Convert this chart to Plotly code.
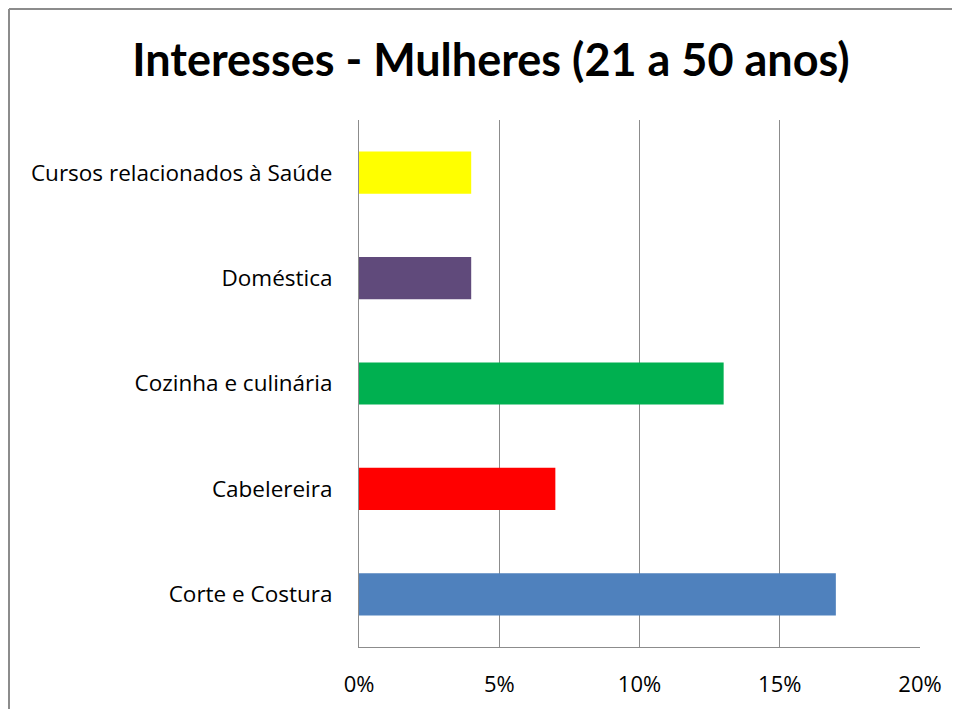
import plotly.graph_objects as go

categorias = [
    "Corte e Costura",
    "Cabelereira",
    "Cozinha e culinária",
    "Doméstica",
    "Cursos relacionados à Saúde",
]
percentuais = [0.17, 0.07, 0.13, 0.04, 0.04]
cores = ["#4F81BD", "#FF0000", "#00B050", "#604A7B", "#FFFF00"]
ticks_x = [0, 0.05, 0.10, 0.15, 0.20]
rotulos_x = ["0%", "5%", "10%", "15%", "20%"]

# a página tem margem de 8px, por isso as margens já descontam esse deslocamento
W, H = 960, 709
M_L, M_R, M_T, M_B = 351, 48, 112, 70
plot_w = W - M_L - M_R
plot_h = H - M_T - M_B

fig = go.Figure()

fig.add_trace(
    go.Bar(
        x=percentuais,
        y=categorias,
        orientation="h",
        marker=dict(color=cores, line=dict(width=0)),
        width=0.4,
        hoverinfo="x+y",
    )
)

# moldura cinza: só as bordas esquerda e superior aparecem na imagem
x_esq = (1 - M_L) / plot_w
y_topo = (H - 1 - M_B) / plot_h
fig.add_shape(
    type="line", xref="paper", yref="paper",
    x0=x_esq, x1=x_esq, y0=-0.3, y1=y_topo,
    line=dict(color="#8C8C8C", width=2),
)
fig.add_shape(
    type="line", xref="paper", yref="paper",
    x0=x_esq, x1=1.2, y0=y_topo, y1=y_topo,
    line=dict(color="#8C8C8C", width=2),
)

fig.update_layout(
    width=W,
    height=H,
    paper_bgcolor="white",
    plot_bgcolor="white",
    showlegend=False,
    margin=dict(l=M_L, r=M_R, t=M_T, b=M_B),
    title=dict(
        text="<b>Interesses - Mulheres (21 a 50 anos)</b>",
        x=(491 - 8) / W,
        xanchor="center",
        y=1 - 52 / H,
        yanchor="middle",
        font=dict(family="Lato", size=45, color="black"),
    ),
    font=dict(family="Open Sans", size=22, color="black"),
    bargap=0.6,
)

fig.update_xaxes(
    range=[0, 0.20],
    tickvals=ticks_x,
    ticktext=rotulos_x,
    showgrid=True,
    gridcolor="#8C8C8C",
    gridwidth=1,
    zeroline=False,
    showline=True,
    linecolor="#8C8C8C",
    linewidth=1,
    mirror=False,
    ticks="",
    ticklabelstandoff=18,
    tickfont=dict(family="Open Sans", size=22, color="black"),
    fixedrange=True,
)

fig.update_yaxes(
    categoryorder="array",
    categoryarray=categorias,
    showgrid=False,
    zeroline=False,
    showline=True,
    linecolor="#8C8C8C",
    linewidth=1,
    ticks="",
    ticklabelstandoff=21,
    tickfont=dict(family="Open Sans", size=22.5, color="black"),
    fixedrange=True,
)

fig.write_html("out.html")
